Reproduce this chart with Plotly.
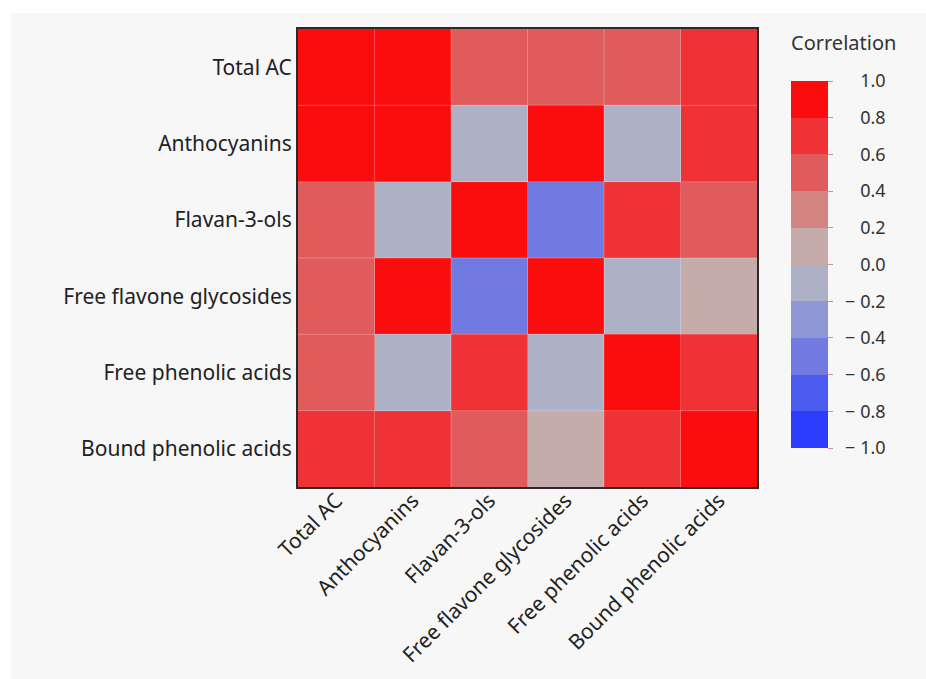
import plotly.graph_objects as go

variables = ["Total AC", "Anthocyanins", "Flavan-3-ols", "Free flavone glycosides",
             "Free phenolic acids", "Bound phenolic acids"]

corr = [
    [1.0, 0.9, 0.5, 0.5, 0.5, 0.7],
    [0.9, 1.0, -0.1, 0.9, -0.1, 0.7],
    [0.5, -0.1, 1.0, -0.5, 0.7, 0.5],
    [0.5, 0.9, -0.5, 1.0, -0.1, 0.1],
    [0.5, -0.1, 0.7, -0.1, 1.0, 0.7],
    [0.7, 0.7, 0.5, 0.1, 0.7, 1.0],
]

bin_edges = [-1.0, -0.8, -0.6, -0.4, -0.2, 0.0, 0.2, 0.4, 0.6, 0.8, 1.0]
bin_colors = ["#2b3cfd", "#4b5bef", "#717ae1", "#9097d6", "#aeb0c6",
              "#c6abab", "#d58484", "#e05c5c", "#ee3235", "#fc0d0d"]
tick_vals = [-1.0, -0.8, -0.6, -0.4, -0.2, 0.0, 0.2, 0.4, 0.6, 0.8, 1.0]

# discrete colorscale
cs = []
for i, c in enumerate(bin_colors):
    lo = (bin_edges[i] + 1) / 2
    hi = (bin_edges[i + 1] + 1) / 2
    cs.append([lo, c])
    cs.append([hi, c])

def fmt(v):
    s = f"{abs(v):.1f}"
    lead = "\u2002"
    return (lead + "\u2212\u2009\u200a" + s) if v < 0 else (lead + "\u2007\u2009\u200a" + s)

tick_text = [fmt(v) for v in tick_vals]

FONT = "Noto Sans"
TXT = "#222222"
CBTXT = "#333333"

W, H = 926, 679
L, R, T, B = 298, 169, 29, 192
PW, PH = W - L - R, H - T - B

def px_x(x):
    return (x - L) / PW

def px_y(y):
    return (H - B - y) / PH

fig = go.Figure(go.Heatmap(
    z=corr, x=variables, y=variables,
    zmin=-1, zmax=1, colorscale=cs,
    colorbar=dict(
        x=px_x(791), xanchor="left", xpad=0, ypad=0,
        y=px_y(264.5), yanchor="middle",
        len=367, lenmode="pixels", thickness=37,
        outlinewidth=0,
        tickvals=tick_vals, ticktext=tick_text,
        ticks="outside", ticklen=5, tickcolor="#d88c9a", tickwidth=1,
        tickfont=dict(family=FONT, size=18, color=CBTXT),
    ),
    hovertemplate="%{y} / %{x}: %{z}<extra></extra>",
))

n = len(variables)
shapes = [
    dict(type="rect", xref="paper", yref="paper", layer="below",
         x0=px_x(0), x1=px_x(11), y0=px_y(H), y1=px_y(0),
         fillcolor="white", line=dict(width=0)),
    dict(type="rect", xref="paper", yref="paper", layer="below",
         x0=px_x(0), x1=px_x(W), y0=px_y(13), y1=px_y(0),
         fillcolor="white", line=dict(width=0)),
]
for k in range(1, n):
    shapes.append(dict(type="line", xref="x", yref="paper", x0=k - 0.5, x1=k - 0.5,
                       y0=0, y1=1, line=dict(color="rgba(255,255,255,0.25)", width=1)))
    shapes.append(dict(type="line", xref="paper", yref="y", y0=k - 0.5, y1=k - 0.5,
                       x0=0, x1=1, line=dict(color="rgba(255,255,255,0.25)", width=1)))

fig.update_layout(
    width=W, height=H, autosize=False,
    margin=dict(l=L, r=R, t=T, b=B, pad=0, autoexpand=False),
    paper_bgcolor="#f7f7f7", plot_bgcolor="rgba(0,0,0,0)",
    font=dict(family=FONT, size=21, color=TXT),
    shapes=shapes,
    annotations=[dict(text="Correlation", xref="paper", yref="paper",
                      x=px_x(789), y=px_y(42),
                      xanchor="left", yanchor="middle", showarrow=False,
                      font=dict(family=FONT, size=20, color=CBTXT))],
)
fig.update_xaxes(tickangle=-45, showline=True, mirror=True, linecolor="#2a2a2a",
                 linewidth=2, showgrid=False, zeroline=False, ticks="", automargin=False,
                 ticklabelstandoff=-9,
                 tickfont=dict(family=FONT, size=21, color=TXT))
fig.update_yaxes(autorange="reversed", showline=True, mirror=True, linecolor="#2a2a2a",
                 linewidth=2, showgrid=False, zeroline=False, ticks="", automargin=False,
                 tickfont=dict(family=FONT, size=21, color=TXT))

fig.write_html("out.html",
               config={"displayModeBar": False, "responsive": False},
               post_script="document.body.style.margin='0';document.body.style.overflow='hidden';")
